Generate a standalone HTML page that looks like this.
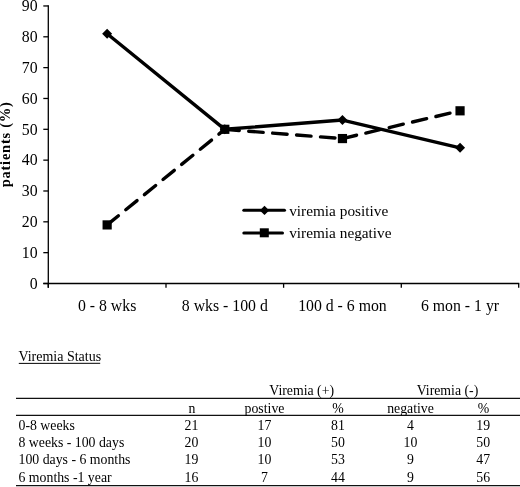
<!DOCTYPE html>
<html><head><meta charset="utf-8"><style>
html,body{margin:0;padding:0;background:#fff;width:520px;height:487px;overflow:hidden}
svg{display:block;will-change:transform}
text{font-family:"Liberation Serif",serif;font-size:13.8px;fill:#000}
.tk text{font-size:15.8px}
.cat text{font-size:15.8px}
.leg{font-size:15.3px}
</style></head><body>
<svg width="520" height="487" viewBox="0 0 520 487">
<g stroke="#000" stroke-width="1.3" fill="none">
<line x1="48.3" x2="48.3" y1="5.36" y2="287.8"/>
<line x1="43.3" x2="519.3" y1="283.5" y2="283.5"/>
<line x1="43.3" x2="48.3" y1="283.5" y2="283.5"/><line x1="43.3" x2="48.3" y1="252.66" y2="252.66"/><line x1="43.3" x2="48.3" y1="221.82" y2="221.82"/><line x1="43.3" x2="48.3" y1="190.99" y2="190.99"/><line x1="43.3" x2="48.3" y1="160.15" y2="160.15"/><line x1="43.3" x2="48.3" y1="129.31" y2="129.31"/><line x1="43.3" x2="48.3" y1="98.47" y2="98.47"/><line x1="43.3" x2="48.3" y1="67.63" y2="67.63"/><line x1="43.3" x2="48.3" y1="36.8" y2="36.8"/><line x1="43.3" x2="48.3" y1="5.96" y2="5.96"/><line x1="48.3" x2="48.3" y1="283.5" y2="287.8"/><line x1="166.0" x2="166.0" y1="283.5" y2="287.8"/><line x1="283.6" x2="283.6" y1="283.5" y2="287.8"/><line x1="401.3" x2="401.3" y1="283.5" y2="287.8"/><line x1="518.7" x2="518.7" y1="283.5" y2="287.8"/>
</g>
<g class="tk"><text x="37.6" y="288.7" text-anchor="end">0</text><text x="37.6" y="257.86" text-anchor="end">10</text><text x="37.6" y="227.02" text-anchor="end">20</text><text x="37.6" y="196.19" text-anchor="end">30</text><text x="37.6" y="165.35" text-anchor="end">40</text><text x="37.6" y="134.51" text-anchor="end">50</text><text x="37.6" y="103.67" text-anchor="end">60</text><text x="37.6" y="72.83" text-anchor="end">70</text><text x="37.6" y="42.0" text-anchor="end">80</text><text x="37.6" y="11.16" text-anchor="end">90</text></g>
<text transform="translate(10,144.3) rotate(-90)" text-anchor="middle" style="font-weight:bold;font-size:14.5px;letter-spacing:0.75px">patients (%)</text>
<g class="cat"><text x="107.15" y="311.3" text-anchor="middle">0 - 8 wks</text><text x="224.8" y="311.3" text-anchor="middle">8 wks - 100 d</text><text x="342.45" y="311.3" text-anchor="middle">100 d - 6 mon</text><text x="460.05" y="311.3" text-anchor="middle">6 mon - 1 yr</text></g>
<polyline points="107.15,33.71 224.8,129.31 342.45,120.06 460.05,147.81" fill="none" stroke="#000" stroke-width="3.4" stroke-linejoin="round"/>
<g stroke="#000" stroke-width="3.4" stroke-dasharray="14.5,9.5" stroke-linecap="round"><line x1="107.15" y1="224.91" x2="224.8" y2="129.31"/><line x1="224.8" y1="129.31" x2="342.45" y2="138.56"/><line x1="342.45" y1="138.56" x2="460.05" y2="110.81"/></g>
<g fill="#000"><path d="M102.15,33.71 L107.15,28.71 L112.15,33.71 L107.15,38.71Z"/><path d="M219.8,129.31 L224.8,124.31 L229.8,129.31 L224.8,134.31Z"/><path d="M337.45,120.06 L342.45,115.06 L347.45,120.06 L342.45,125.06Z"/><path d="M455.05,147.81 L460.05,142.81 L465.05,147.81 L460.05,152.81Z"/><rect x="102.55000000000001" y="220.31" width="9.2" height="9.2"/><rect x="220.20000000000002" y="124.71000000000001" width="9.2" height="9.2"/><rect x="337.84999999999997" y="133.96" width="9.2" height="9.2"/><rect x="455.45" y="106.21000000000001" width="9.2" height="9.2"/></g>
<g stroke="#000" stroke-width="3" stroke-linecap="round"><line x1="243.8" x2="284.5" y1="210.3" y2="210.3"/><line x1="243.8" x2="282.5" y1="232.9" y2="232.9"/></g>
<g fill="#000"><path d="M259.8,210.4 L264.5,205.70000000000002 L269.2,210.4 L264.5,215.1Z"/><rect x="259.8" y="228.3" width="9.0" height="9.0"/></g>
<text class="leg" x="289.2" y="215.8">viremia positive</text>
<text class="leg" x="289.2" y="237.8">viremia negative</text>
<text x="18.4" y="361" style="font-size:14px">Viremia Status</text>
<line x1="18.8" x2="100.2" y1="363.4" y2="363.3" stroke="#000" stroke-width="1"/>
<g stroke="#111" stroke-width="1.25"><line x1="16" x2="520" y1="398.4" y2="398.4"/><line x1="16" x2="520" y1="415.3" y2="415.3"/><line x1="16" x2="520" y1="485.6" y2="485.6"/></g>
<text x="301.7" y="394.7" text-anchor="middle">Viremia (+)</text><text x="447.5" y="394.7" text-anchor="middle">Viremia (-)</text><text x="192" y="412.7" text-anchor="middle">n</text><text x="264.5" y="412.7" text-anchor="middle">postive</text><text x="338" y="412.7" text-anchor="middle">%</text><text x="410.5" y="412.7" text-anchor="middle">negative</text><text x="483.5" y="412.7" text-anchor="middle">%</text><text x="18.5" y="429.7">0-8 weeks</text><text x="191.5" y="429.7" text-anchor="middle">21</text><text x="264.5" y="429.7" text-anchor="middle">17</text><text x="338" y="429.7" text-anchor="middle">81</text><text x="410.5" y="429.7" text-anchor="middle">4</text><text x="483.2" y="429.7" text-anchor="middle">19</text><text x="18.5" y="447.2">8 weeks - 100 days</text><text x="191.5" y="447.2" text-anchor="middle">20</text><text x="264.5" y="447.2" text-anchor="middle">10</text><text x="338" y="447.2" text-anchor="middle">50</text><text x="410.5" y="447.2" text-anchor="middle">10</text><text x="483.2" y="447.2" text-anchor="middle">50</text><text x="18.5" y="464.4">100 days - 6 months</text><text x="191.5" y="464.4" text-anchor="middle">19</text><text x="264.5" y="464.4" text-anchor="middle">10</text><text x="338" y="464.4" text-anchor="middle">53</text><text x="410.5" y="464.4" text-anchor="middle">9</text><text x="483.2" y="464.4" text-anchor="middle">47</text><text x="18.5" y="481.6">6 months -1 year</text><text x="191.5" y="481.6" text-anchor="middle">16</text><text x="264.5" y="481.6" text-anchor="middle">7</text><text x="338" y="481.6" text-anchor="middle">44</text><text x="410.5" y="481.6" text-anchor="middle">9</text><text x="483.2" y="481.6" text-anchor="middle">56</text>
</svg>
</body></html>
